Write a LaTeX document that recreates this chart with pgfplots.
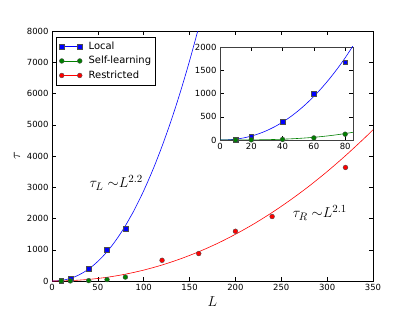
\documentclass[border=0pt]{standalone}
\usepackage{fontspec}
\setmainfont{DejaVu Sans}
\usepackage{pgfplots}
\pgfplotsset{compat=1.18}
\definecolor{mgreen}{RGB}{0,128,0}
\pgfplotsset{
  mystyle/.style={
    scale only axis,
    tick align=inside,
    tick pos=both,
    major tick length=4bp,
    every tick/.style={black, line width=0.5pt},
    axis line style={line width=0.8pt},
    ticklabel style={font=\fontsize{8.5}{10}\selectfont},
    /pgf/number format/assume math mode=true,
    /pgf/number format/1000 sep={},
    scaled ticks=false,
  }
}
\begin{document}
\begin{tikzpicture}
\path[use as bounding box] (-52bp,-31bp) rectangle (363bp,281bp);
\begin{axis}[mystyle,
  at={(0bp,0bp)}, anchor=south west,
  width=321bp, height=250bp,
  xmin=0, xmax=350, ymin=0, ymax=8000,
  xtick={0,50,...,350}, ytick={0,1000,...,8000},
  xlabel={$L$}, ylabel={$\tau$},
  label style={font=\fontsize{14}{16}\selectfont},
  xlabel style={at={(axis description cs:0.5,0)}, anchor=center, yshift=-21bp},
  ylabel style={at={(axis description cs:-0.109,0.5)}, anchor=center},
  legend style={at={(axis description cs:0.013,0.976)}, anchor=north west,
    font=\fontsize{10}{12}\selectfont, draw=black, fill=white,
    row sep=2bp, column sep=5bp, inner xsep=3bp, inner ysep=3bp,
    nodes={inner sep=1.5bp, text height=7.5bp, text depth=2bp}},
  legend cell align=left,
  legend image code/.code={\draw[#1] plot coordinates {(0bp,0bp) (18bp,0bp)};},
]
\addlegendimage{blue, mark=square*, mark size=2.4bp, mark options={draw=black!70, fill=blue}}
\addlegendentry{Local}
\addlegendimage{mgreen, mark=*, mark size=2.4bp, mark options={draw=black!70, fill=mgreen}}
\addlegendentry{Self-learning}
\addlegendimage{red, mark=*, mark size=2.4bp, mark options={draw=black!70, fill=red}}
\addlegendentry{Restricted}
% fits
\addplot[blue, line width=0.6pt, smooth, forget plot] coordinates {
(0,0)(5,3.97)(10,18.2)(15,44.5)(20,83.7)(25,136.7)(30,204.2)(35,286.7)(40,384.7)(45,498.4)(50,628.4)(55,775)(60,938.5)(65,1119)(70,1317)(75,1533)(80,1767)(85,2025)(90,2290)(100,2889)(110,3562)(120,4313)(130,5143)(140,6054)(150,7046)(160,8121)};
\addplot[red, line width=0.6pt, smooth, forget plot] coordinates {
(0,0)(10,2.77)(20,11.9)(40,50.9)(60,119)(80,218)(100,349)(120,512)(140,708)(160,936)(180,1198)(200,1495)(220,1826)(240,2192)(260,2594)(280,3029)(300,3502)(320,4011)(340,4554)(350,4838)};
% data
\addplot[only marks, mark=square*, mark size=2.4bp, draw=black!70, fill=blue, forget plot] coordinates {
(10,15)(20,80)(40,395)(60,1000)(80,1675)};
\addplot[only marks, mark=*, mark size=2.4bp, draw=black!70, fill=mgreen, forget plot] coordinates {
(10,1)(20,3)(40,12)(60,45)(80,125)};
\addplot[only marks, mark=*, mark size=2.4bp, draw=black!70, fill=red, forget plot] coordinates {
(120,663)(160,878)(200,1592)(240,2063)(320,3633)};
\node[font=\fontsize{15}{18}\selectfont] at (axis cs:70,3140) {$\tau_L\;{\sim}L^{2.2}$};
\node[font=\fontsize{15}{18}\selectfont] at (axis cs:292,2180) {$\tau_R\;{\sim}L^{2.1}$};
\end{axis}
\begin{axis}[mystyle,
  at={(168bp,141bp)}, anchor=south west,
  width=133bp, height=93bp,
  xmin=0, xmax=85, ymin=0, ymax=2000,
  xtick={0,20,...,80}, ytick={0,500,...,2000},
  axis background/.style={fill=white},
  axis line style={line width=0.8pt, black!75},
]
\addplot[blue, line width=0.6pt, smooth] coordinates {
(0,0)(5,3.97)(10,18.2)(15,44.5)(20,83.7)(25,136.7)(30,204.2)(35,286.7)(40,384.7)(45,498.4)(50,628.4)(55,775)(60,938.5)(65,1119)(70,1317)(75,1533)(80,1767)(85,2025)};
\addplot[mgreen, line width=0.6pt, smooth] coordinates {
(0,0)(10,0.27)(15,0.9)(20,2.16)(25,4.2)(30,7.3)(35,11.6)(40,17.3)(45,24.6)(50,33.75)(55,44.9)(60,58.3)(65,74.2)(70,92.6)(75,114)(80,138)(85,166)};
\addplot[only marks, mark=square*, mark size=2.4bp, draw=black!70, fill=blue] coordinates {
(10,15)(20,80)(40,395)(60,1000)(80,1675)};
\addplot[only marks, mark=*, mark size=2.4bp, draw=black!70, fill=mgreen] coordinates {
(10,1)(20,3)(40,12)(60,45)(80,125)};
\end{axis}
\end{tikzpicture}
\end{document}
